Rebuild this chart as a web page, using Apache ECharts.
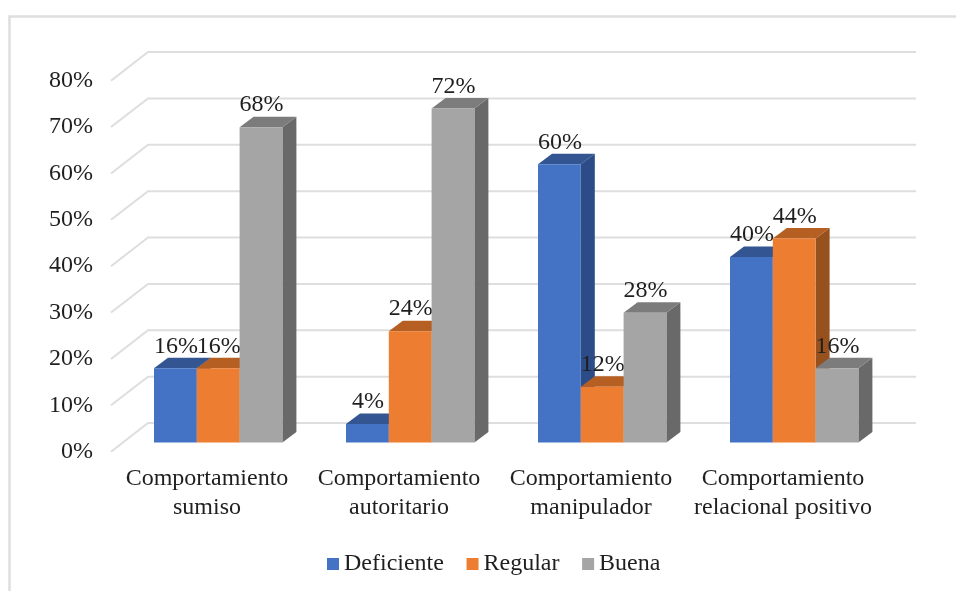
<!DOCTYPE html>
<html>
<head>
<meta charset="utf-8">
<style>html,body{margin:0;padding:0;background:#fff}#c{width:956px;height:591px}</style>
<script src="https://cdn.jsdelivr.net/npm/echarts@6/dist/echarts.min.js"></script>
</head>
<body>
<div id="c"></div>
<script>
const categories = ["Comportamiento\nsumiso", "Comportamiento\nautoritario", "Comportamiento\nmanipulador", "Comportamiento\nrelacional positivo"];
const deficiente = [16, 4, 60, 40];
const regular = [16, 24, 12, 44];
const buena = [68, 72, 28, 16];
const ticks = [0, 10, 20, 30, 40, 50, 60, 70, 80];

const FONT = '"Liberation Serif","Times New Roman",serif';
const FS = 24;
const TEXT = '#1f1f1f';
const GRID = '#DEDEDE';
const palettes = [
  { front: '#4472C4', top: '#335592', side: '#2B4C86' },
  { front: '#ED7D31', top: '#B55F23', side: '#97511E' },
  { front: '#A5A5A5', top: '#7C7C7C', side: '#696969' }
];

function barSeries(name, values, idx) {
  const p = palettes[idx];
  return {
    name, type: 'custom', coordinateSystem: 'cartesian2d', clip: false, z: 3 + idx,
    itemStyle: { color: p.front },
    encode: { x: 0, y: 1 },
    data: values.map((v, i) => [i, v]),
    renderItem(params, api) {
      const w = 42.8, dx = 14, dy = 10.5;
      const top = api.coord([api.value(0), api.value(1)]);
      const base = api.coord([api.value(0), 0]);
      const floorY = base[1] - 9.2;
      const topY = top[1] - 9.2;
      const x0 = top[0] + 11.5 - 64.5 + idx * w;
      const x1 = x0 + w;
      return {
        type: 'group',
        children: [
          { type: 'polygon', shape: { points: [[x1, topY], [x1 + dx, topY - dy], [x1 + dx, floorY - dy], [x1, floorY]] }, style: { fill: p.side } },
          { type: 'polygon', shape: { points: [[x0, topY], [x0 + dx, topY - dy], [x1 + dx, topY - dy], [x1, topY]] }, style: { fill: p.top } },
          { type: 'rect', shape: { x: x0, y: topY, width: w, height: floorY - topY }, style: { fill: p.front } },
          { type: 'text', z2: 100, style: { x: x0 + w / 2 + 0.5, y: topY - 22, text: api.value(1) + '%', fill: TEXT, font: FS + 'px ' + FONT, textAlign: 'center', textVerticalAlign: 'middle' } }
        ]
      };
    }
  };
}

const wallSeries = {
  type: 'custom', coordinateSystem: 'cartesian2d', clip: false, z: 1, silent: true,
  encode: { y: 0 },
  data: ticks.map(t => [t]),
  renderItem(params, api) {
    const y = api.coord([0, api.value(0)])[1];
    const left = 111, depthX = 37, depthY = 28.7, right = 916;
    return {
      type: 'polyline',
      shape: { points: [[left, y], [left + depthX, y - depthY], [right, y - depthY]] },
      style: { stroke: GRID, lineWidth: 2, fill: null }
    };
  }
};

const chart = echarts.init(document.getElementById('c'), null, { renderer: 'canvas' });
chart.setOption({
  animation: false,
  backgroundColor: '#ffffff',
  textStyle: { fontFamily: FONT },
  grid: { left: 111, right: 77, top: 80.7, bottom: 139.3 },
  xAxis: {
    type: 'category', data: categories,
    axisLine: { show: false }, axisTick: { show: false }, splitLine: { show: false },
    axisLabel: { color: TEXT, fontFamily: FONT, fontSize: FS, lineHeight: 29, margin: 13, interval: 0 }
  },
  yAxis: {
    type: 'value', min: 0, max: 80, interval: 10,
    axisLine: { show: false }, axisTick: { show: false }, splitLine: { show: false },
    axisLabel: { color: TEXT, fontFamily: FONT, fontSize: FS, margin: 18, formatter: '{value}%' }
  },
  legend: {
    left: 327, top: 552, padding: 0, itemWidth: 12, itemHeight: 12, itemGap: 22.6, icon: 'rect',
    selectedMode: false,
    textStyle: { color: TEXT, fontFamily: FONT, fontSize: FS },
    data: ['Deficiente', 'Regular', 'Buena']
  },
  graphic: [{
    type: 'polyline', silent: true, z: 0,
    shape: { points: [[9.5, 591], [9.5, 16.5], [956, 16.5]] },
    style: { stroke: GRID, lineWidth: 2.5, fill: null }
  }],
  series: [
    wallSeries,
    barSeries('Deficiente', deficiente, 0),
    barSeries('Regular', regular, 1),
    barSeries('Buena', buena, 2)
  ]
});
</script>
</body>
</html>
